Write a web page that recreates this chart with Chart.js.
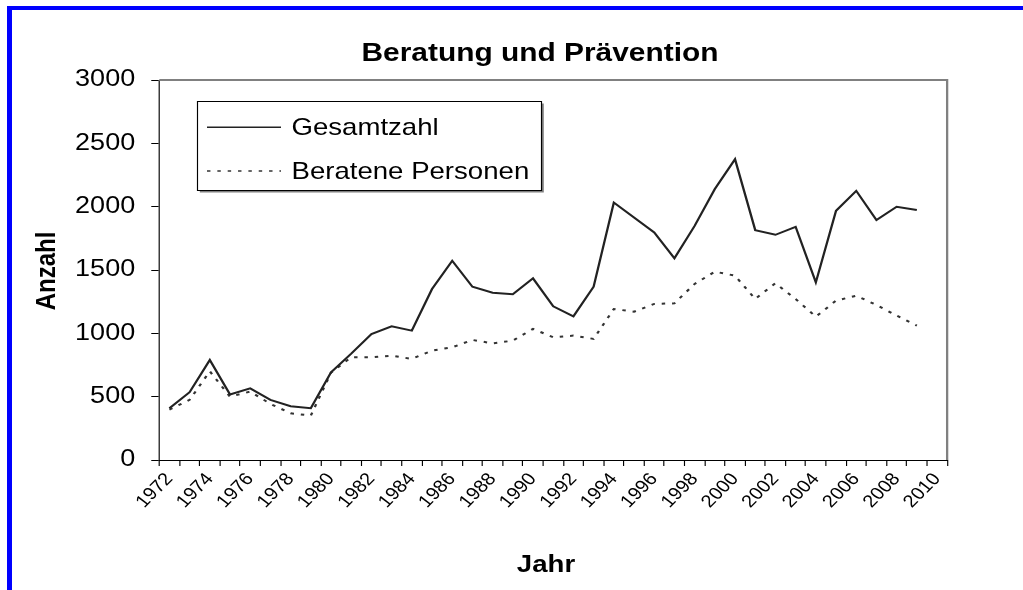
<!DOCTYPE html>
<html>
<head>
<meta charset="utf-8">
<script src="https://cdn.jsdelivr.net/npm/chart.js@4/dist/chart.umd.min.js"></script>
<style>
  html, body { margin: 0; padding: 0; background: #fff; overflow: hidden; }
  #wrap { position: relative; width: 1023px; height: 590px; }
  #c { position: absolute; left: 0; top: 0; }
  #frame { position: absolute; left: 7px; top: 6px; width: 1200px; height: 800px;
           border-top: 4px solid #0000ff; border-left: 5px solid #0000ff; box-sizing: border-box; }
</style>
</head>
<body>
<div id="wrap">
  <canvas id="c" width="890" height="590" style="width:1023px;height:590px"></canvas>
  <div id="frame"></div>
</div>
<script>
// ---- data ----
const years = ['1972','1973','1974','1975','1976','1977','1978','1979','1980','1981',
               '1982','1983','1984','1985','1986','1987','1988','1989','1990','1991',
               '1992','1993','1994','1995','1996','1997','1998','1999','2000','2001',
               '2002','2003','2004','2005','2006','2007','2008','2009','2010'];
const xTickLabels = ['1972','1974','1976','1978','1980','1982','1984','1986','1988','1990',
                     '1992','1994','1996','1998','2000','2002','2004','2006','2008','2010'];
const gesamtzahl = [409,535,790,517,566,475,424,409,692,840,
                    995,1055,1021,1350,1573,1368,1321,1308,1434,1213,
                    1134,1368,2033,1915,1796,1592,1848,2139,2375,1815,
                    1778,1841,1402,1967,2125,1894,1999,1973,null];
const beratenePersonen = [398,475,700,500,540,443,369,351,690,811,
                          811,824,798,864,890,948,921,942,1035,969,
                          982,956,1192,1171,1232,1237,1390,1487,1455,1271,
                          1395,1271,1132,1258,1297,1224,1140,1061,null];
const yTicks = [0,500,1000,1500,2000,2500,3000];
const seriesNames = ['Gesamtzahl','Beratene Personen'];
const chartTitle = 'Beratung und Prävention';
const yAxisTitle = 'Anzahl';
const xAxisTitle = 'Jahr';

// horizontal stretch of the original picture
const S = 1023 / 890;
const FONT = "'Liberation Sans', Arial, sans-serif";

const stretchPlugin = {
  id: 'stretch',
  beforeDraw(chart) {
    const ctx = chart.ctx;
    ctx.save();
    ctx.setTransform(S, 0, 0, 1, 0, 0);
  },
  afterDraw(chart) {
    chart.ctx.restore();
  }
};

const framePlugin = {
  id: 'frameLines',
  beforeDatasetsDraw(chart) {
    const {ctx, chartArea: a} = chart;
    ctx.save();
    ctx.strokeStyle = '#808080';
    ctx.lineWidth = 2;
    ctx.beginPath();
    ctx.moveTo(a.left, a.top);
    ctx.lineTo(a.right, a.top);
    ctx.lineTo(a.right, a.bottom);
    ctx.stroke();
    ctx.restore();
  }
};

const textPlugin = {
  id: 'texts',
  afterDatasetsDraw(chart) {
    const ctx = chart.ctx;
    ctx.save();
    ctx.fillStyle = '#000';
    // title
    ctx.font = 'bold 26px ' + FONT;
    ctx.textAlign = 'center';
    ctx.textBaseline = 'alphabetic';
    ctx.fillText(chartTitle, 540 / S, 61);
    // y axis title
    ctx.save();
    ctx.translate(47 / S, 271);
    ctx.rotate(-Math.PI / 2);
    ctx.font = 'bold 24px ' + FONT;
    ctx.textBaseline = 'middle';
    ctx.fillText(yAxisTitle, 0, 0);
    ctx.restore();
    // x axis title
    ctx.font = 'bold 24px ' + FONT;
    ctx.textBaseline = 'middle';
    ctx.fillText(xAxisTitle, 546 / S, 565);

    // legend box
    const bx = 197.5 / S, by = 101.5, bw = (541.5 - 197.5) / S, bh = 89;
    ctx.fillStyle = '#808080';
    ctx.fillRect(bx + 2, by + 2, bw, bh);
    ctx.fillStyle = '#fff';
    ctx.fillRect(bx, by, bw, bh);
    ctx.strokeStyle = '#000';
    ctx.lineWidth = 1;
    ctx.strokeRect(bx, by, bw, bh);
    const rows = [127.3, 171];
    chart.data.datasets.forEach((ds, i) => {
      const y = rows[i];
      ctx.save();
      ctx.strokeStyle = ds.borderColor;
      ctx.lineWidth = 1.5;
      ctx.setLineDash(ds.borderDash || []);
      ctx.beginPath();
      ctx.moveTo(207 / S, y);
      ctx.lineTo(281 / S, y);
      ctx.stroke();
      ctx.restore();
      ctx.fillStyle = '#000';
      ctx.font = '24px ' + FONT;
      ctx.textAlign = 'left';
      ctx.textBaseline = 'middle';
      ctx.fillText(ds.label, 291.5 / S, y + 1);
    });
    ctx.restore();
  }
};

const canvas = document.getElementById('c');
const chart = new Chart(canvas, {
  type: 'line',
  data: {
    labels: years,
    datasets: [
      { label: seriesNames[0], data: gesamtzahl, borderColor: '#222', borderWidth: 2,
        pointRadius: 0, tension: 0, fill: false },
      { label: seriesNames[1], data: beratenePersonen, borderColor: '#333', borderWidth: 2,
        borderDash: [3, 6], pointRadius: 0, tension: 0, fill: false }
    ]
  },
  options: {
    responsive: false,
    animation: false,
    devicePixelRatio: 1,
    layout: { padding: { left: 0, right: 66, top: 80, bottom: 0 } },
    plugins: { legend: { display: false }, title: { display: false }, tooltip: { enabled: false } },
    scales: {
      x: {
        type: 'category',
        offset: true,
        grid: { offset: true, drawOnChartArea: false, drawTicks: true, tickLength: 6, color: '#000', lineWidth: 1 },
        border: { display: true, color: '#000', width: 1 },
        ticks: {
          autoSkip: false, minRotation: 49, maxRotation: 49, padding: 3,
          color: '#000', font: { family: FONT, size: 17.5 },
          callback: function (v, i) { const y = years[i]; return xTickLabels.includes(y) ? y : ''; }
        },
        afterFit: s => { s.height = 130; }
      },
      y: {
        min: 0, max: 3000,
        afterBuildTicks: s => { s.ticks = yTicks.map(v => ({ value: v })); },
        grid: { drawOnChartArea: false, drawTicks: true, tickLength: 7, color: '#000', lineWidth: 1 },
        border: { display: true, color: '#000', width: 1 },
        ticks: { padding: 14, color: '#000', font: { family: FONT, size: 23.5 },
                 callback: v => String(v) },
        afterFit: s => { s.width = 138.6; }
      }
    }
  },
  plugins: [stretchPlugin, framePlugin, textPlugin]
});
canvas.width = 1023;
canvas.style.width = '1023px';
canvas.style.height = '590px';
chart.draw();
</script>
</body>
</html>
